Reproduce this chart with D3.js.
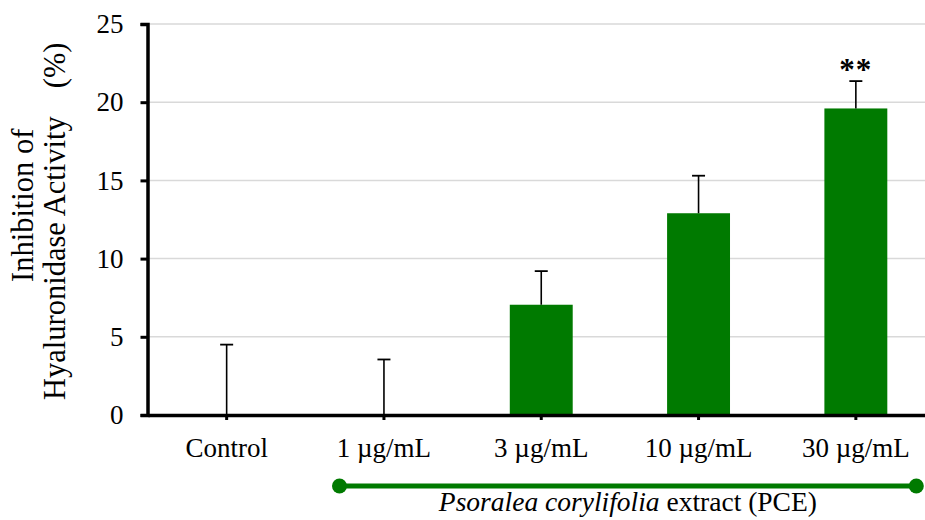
<!DOCTYPE html>
<html>
<head>
<meta charset="utf-8">
<script src="https://cdn.jsdelivr.net/npm/d3@7"></script>
<style>
  body { margin: 0; background: #fff; }
  text { font-family: "Liberation Serif", "Times New Roman", serif; fill: #000; }
</style>
</head>
<body>
<div id="chart"></div>
<script>
// data
var groups = ["Control", "1 \u00b5g/mL", "3 \u00b5g/mL", "10 \u00b5g/mL", "30 \u00b5g/mL"];
var means = [0, 0.05, 7.05, 12.9, 19.6];
var errors = [4.5, 3.5, 2.15, 2.4, 1.75];
var marks = ["", "", "", "", "**"];
var yTicks = [0, 5, 10, 15, 20, 25];

var svgWidth = 925, svgHeight = 520;

var svg = d3.select("#chart")
  .append("svg")
  .attr("width", svgWidth)
  .attr("height", svgHeight);

// scales
var x = d3.scaleBand()
  .domain(groups)
  .range([148, 934.5])
  .paddingInner(0.6)
  .paddingOuter(0.3);

var y = d3.scaleLinear()
  .domain([0, 25])
  .range([415, 24]);

// gridlines
svg.append("g")
  .selectAll("line")
  .data(yTicks.filter(d => d > 0))
  .enter()
  .append("line")
  .attr("x1", 148)
  .attr("x2", svgWidth)
  .attr("y1", d => y(d))
  .attr("y2", d => y(d))
  .attr("stroke", "#d9d9d9")
  .attr("stroke-width", 1.5);

// bars
svg.append("g")
  .selectAll("rect")
  .data(groups)
  .enter()
  .append("rect")
  .attr("x", d => x(d))
  .attr("width", x.bandwidth())
  .attr("y", (d, i) => y(means[i]))
  .attr("height", (d, i) => y(0) - y(means[i]))
  .attr("fill", "#007a00");

// error bars (upper only)
var eb = svg.append("g")
  .selectAll("g")
  .data(groups)
  .enter()
  .append("g");

eb.append("line")
  .attr("x1", d => x(d) + x.bandwidth() / 2)
  .attr("x2", d => x(d) + x.bandwidth() / 2)
  .attr("y1", (d, i) => y(means[i]))
  .attr("y2", (d, i) => y(means[i] + errors[i]))
  .attr("stroke", "#000")
  .attr("stroke-width", 1.6);

eb.append("line")
  .attr("x1", d => x(d) + x.bandwidth() / 2 - 6.5)
  .attr("x2", d => x(d) + x.bandwidth() / 2 + 6.5)
  .attr("y1", (d, i) => y(means[i] + errors[i]))
  .attr("y2", (d, i) => y(means[i] + errors[i]))
  .attr("stroke", "#000")
  .attr("stroke-width", 1.8);

// significance marks
svg.append("g")
  .selectAll("text")
  .data(groups)
  .enter()
  .append("text")
  .attr("x", d => x(d) + x.bandwidth() / 2)
  .attr("y", (d, i) => y(means[i] + errors[i]))
  .attr("dy", -1)
  .attr("text-anchor", "middle")
  .attr("font-size", 31)
  .attr("font-weight", "bold")
  .attr("letter-spacing", 1)
  .text((d, i) => marks[i]);

// y axis
var yAxis = svg.append("g")
  .attr("transform", "translate(147.5,0)")
  .call(d3.axisLeft(y).tickValues(yTicks).tickSize(7).tickPadding(17));
yAxis.select(".domain").attr("stroke-width", 3.5);
yAxis.selectAll(".tick line").attr("stroke-width", 3);
yAxis.selectAll(".tick text")
  .attr("font-size", 27)
  .style("font-family", "'Liberation Serif', serif");

// x axis
var xAxis = svg.append("g")
  .attr("transform", "translate(0,415)")
  .call(d3.axisBottom(x).tickSizeInner(5).tickSizeOuter(0).tickPadding(18));
xAxis.select(".domain").attr("stroke-width", 3.5);
xAxis.selectAll(".tick line").attr("stroke-width", 3);
xAxis.selectAll(".tick text")
  .attr("font-size", 27)
  .style("font-family", "'Liberation Serif', serif");

// y axis title
var title = svg.append("g").attr("font-size", 30.5);
title.append("text")
  .attr("transform", "translate(33,282) rotate(-90)")
  .text("Inhibition of");
var t2 = title.append("text")
  .attr("transform", "translate(65,400) rotate(-90)");
t2.append("tspan").text("Hyaluronidase Activity");
t2.append("tspan").attr("dx", 28).text("(%)");

// PCE bracket
var pce = groups.slice(1);
var bx1 = x(pce[0]) - 13, bx2 = x(pce[pce.length - 1]) + x.bandwidth() + 29;
svg.append("line")
  .attr("x1", bx1).attr("x2", bx2)
  .attr("y1", 486).attr("y2", 486)
  .attr("stroke", "#007a00")
  .attr("stroke-width", 5);
svg.selectAll(".dot")
  .data([bx1, bx2])
  .enter()
  .append("circle")
  .attr("cx", d => d)
  .attr("cy", 486)
  .attr("r", 7.5)
  .attr("fill", "#007a00");

var lab = svg.append("text")
  .attr("x", (bx1 + bx2) / 2)
  .attr("y", 511)
  .attr("text-anchor", "middle")
  .attr("font-size", 27.5);
lab.append("tspan").attr("font-style", "italic").text("Psoralea corylifolia");
lab.append("tspan").text(" extract (PCE)");
</script>
</body>
</html>
